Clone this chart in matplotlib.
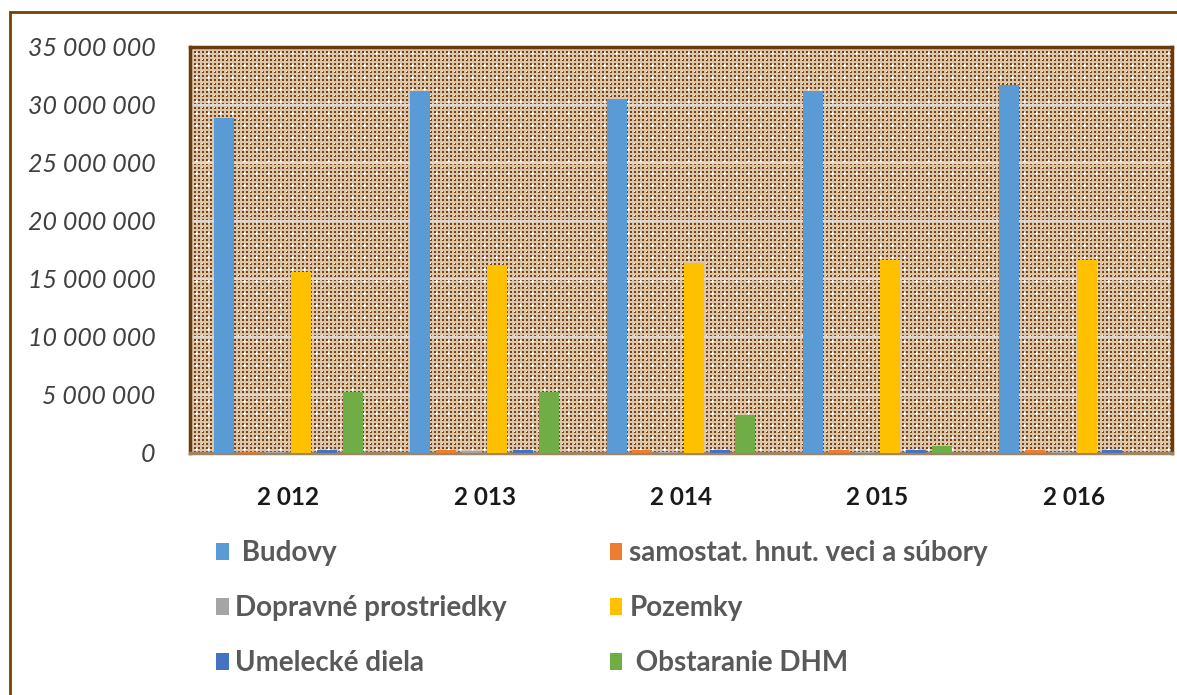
import numpy as np
import matplotlib
matplotlib.use("Agg")
import matplotlib.pyplot as plt
from matplotlib.patches import Rectangle, Patch
from matplotlib.ticker import FuncFormatter

years = ["2 012", "2 013", "2 014", "2 015", "2 016"]
series_names = [" Budovy", "samostat. hnut. veci a súbory", "Dopravné prostriedky",
                "Pozemky", "Umelecké diela", " Obstaranie DHM"]
budovy = [28_900_000, 31_200_000, 30_500_000, 31_200_000, 31_700_000]
samostat = [50_000, 250_000, 250_000, 250_000, 250_000]
dopravne = [50_000, 150_000, 100_000, 100_000, 100_000]
pozemky = [15_600_000, 16_200_000, 16_400_000, 16_600_000, 16_600_000]
umelecke = [280_000, 280_000, 280_000, 280_000, 280_000]
obstaranie = [5_300_000, 5_250_000, 3_300_000, 600_000, 0]
series_values = [budovy, samostat, dopravne, pozemky, umelecke, obstaranie]
colors = ["#5B9BD5", "#ED7D31", "#A5A5A5", "#FFC000", "#4472C4", "#70AD47"]
yticks = list(range(0, 35_000_001, 5_000_000))

W, H = 1177, 695
fig = plt.figure(figsize=(W / 100, H / 100), dpi=100)
fig.patch.set_facecolor("white")

ax_l, ax_r, ax_t, ax_b = 190, 1172, 47, 453
ax = fig.add_axes([ax_l / W, 1 - ax_b / H, (ax_r - ax_l) / W, (ax_b - ax_t) / H])
ax.patch.set_visible(False)

# decorative patterned plot-area background
pw, ph = ax_r - ax_l, ax_b - ax_t
yy, xx = np.mgrid[0:ph, 0:pw]
dark = np.array([0.47, 0.27, 0.06])
light = np.array([0.86, 0.78, 0.68])
img = np.empty((ph, pw, 3))
img[:] = light
mask_dark = ((yy % 4) < 2) & ((xx % 4) < 2)
img[mask_dark] = dark
cross = (((yy % 12) == 6) & ((xx % 12) >= 5) & ((xx % 12) <= 7)) | \
        (((xx % 12) == 6) & ((yy % 12) >= 5) & ((yy % 12) <= 7)) | \
        (((yy % 12) == 0) & ((xx % 12) == 0))
img[cross] = [1, 1, 1]
fig.figimage(img, xo=ax_l, yo=H - ax_b, zorder=-1, origin="upper")

x = np.arange(len(years))
step, width = 0.131, 0.102
for i, (name, vals, c) in enumerate(zip(series_names, series_values, colors)):
    ax.bar(x + (i - 2.5) * step, vals, width=width, color=c, label=name, zorder=3)

ax.set_xlim(-0.5, len(years) - 0.5)
ax.set_ylim(0, 35_000_000)
ax.set_yticks(yticks)
ax.yaxis.set_major_formatter(FuncFormatter(lambda v, p: f"{int(v):,}".replace(",", " ")))
ax.set_xticks(x)
ax.set_xticklabels(years)
ax.grid(axis="y", color="#e0d8d0", linewidth=1.5, zorder=1)
ax.set_axisbelow(True)
ax.tick_params(axis="both", length=0)
ax.tick_params(axis="y", pad=25)
ax.tick_params(axis="x", pad=24)
for lbl in ax.get_yticklabels():
    lbl.set_fontfamily("Lato")
    lbl.set_fontstyle("italic")
    lbl.set_fontsize(18)
    lbl.set_color("#404040")
for lbl in ax.get_xticklabels():
    lbl.set_fontfamily("Lato")
    lbl.set_fontweight("bold")
    lbl.set_fontsize(17.5)
    lbl.set_color("#1a1a1a")

for side in ["left", "top", "right"]:
    ax.spines[side].set_color("#6b3a0c")
    ax.spines[side].set_linewidth(2.5)
ax.spines["bottom"].set_color("#a08466")
ax.spines["bottom"].set_linewidth(2.5)

# legend: rows = (Budovy, samostat), (Dopravné, Pozemky), (Umelecké, Obstaranie)
handles = [Patch(facecolor=c, edgecolor="none") for c in colors]
order = [0, 2, 4, 1, 3, 5]
leg = fig.legend([handles[k] for k in order], [series_names[k] for k in order],
                 loc="upper left", bbox_to_anchor=(216 / W, 1 - 540 / H), ncol=2,
                 frameon=False, borderpad=0, borderaxespad=0,
                 handlelength=0.45, handleheight=0.55, handletextpad=0.25,
                 labelspacing=1.05, columnspacing=3.7,
                 prop={"family": "Lato", "weight": "bold", "size": 20})
for t in leg.get_texts():
    t.set_color("#595959")

# outer figure border
fig.patches.append(Rectangle((10 / W, -0.1), 1.2, (H - 12) / H + 0.1,
                             transform=fig.transFigure, fill=False,
                             edgecolor="#7b3f00", linewidth=2, zorder=5))

fig.savefig("out.png", dpi=100)
